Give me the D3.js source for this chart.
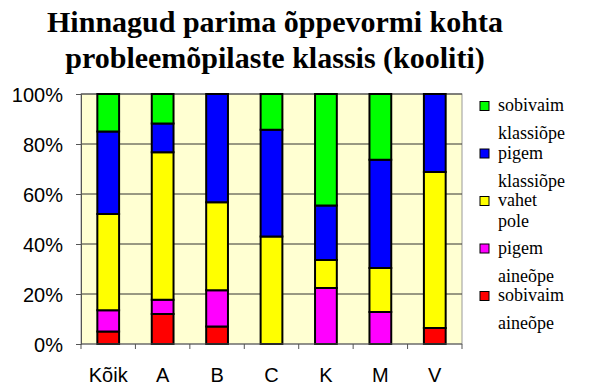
<!DOCTYPE html>
<html>
<head>
<meta charset="utf-8">
<script src="https://cdn.jsdelivr.net/npm/d3@7"></script>
<style>
body { margin: 0; background: #fff; }
.serif { font-family: "Liberation Serif", "Times New Roman", Times, "DejaVu Serif", serif; }
.sans { font-family: "Liberation Sans", Arial, Helvetica, sans-serif; }
</style>
</head>
<body>
<script>
// andmed
var categories = ["Kõik", "A", "B", "C", "K", "M", "V"];
var seriesNames = ["sobivaim aineõpe", "pigem aineõpe", "vahet pole", "pigem klassiõpe", "sobivaim klassiõpe"];
var seriesColors = ["#FF0000", "#FF00FF", "#FFFF00", "#0000FF", "#00FF00"];
var sobivaimAine = [5, 12, 7, 0, 0, 0, 6.4];
var pigemAine = [8.5, 5.7, 14.5, 0, 22.4, 12.8, 0];
var vahetPole = [38.5, 59, 35.2, 43, 11.2, 17.6, 62.4];
var pigemKlassi = [33, 11.5, 43.3, 42.7, 21.8, 43.3, 31.2];
var sobivaimKlassi = [15, 11.8, 0, 14.3, 44.6, 26.3, 0];
var yTicks = [0, 20, 40, 60, 80, 100];
var legendLines = [["sobivaim", "klassiõpe"], ["pigem", "klassiõpe"], ["vahet", "pole"], ["pigem", "aineõpe"], ["sobivaim", "aineõpe"]];

var width = 592, height = 387;
var margin = {top: 94, right: 130, bottom: 43, left: 81};
var plotW = width - margin.left - margin.right;
var plotH = height - margin.top - margin.bottom;

var svg = d3.select("body").append("svg")
    .attr("width", width)
    .attr("height", height);

// pealkiri
var title = svg.append("text")
    .attr("class", "serif")
    .attr("text-anchor", "middle")
    .attr("font-weight", "bold")
    .attr("font-size", "30px");
title.append("tspan").attr("x", 275).attr("y", 32).text("Hinnagud parima õppevormi kohta");
title.append("tspan").attr("x", 275).attr("y", 68).text("probleemõpilaste klassis (kooliti)");

var g = svg.append("g")
    .attr("transform", "translate(" + margin.left + "," + margin.top + ")");

var xScale = d3.scaleBand().domain(categories).range([0, plotW]).paddingInner(0.6).paddingOuter(0.3);
var xBound = d3.scaleLinear().domain([0, categories.length]).range([0, plotW]);
var yScale = d3.scaleLinear().domain([0, 100]).range([plotH, 0]);

// taust
g.append("rect")
    .attr("width", plotW)
    .attr("height", plotH)
    .attr("fill", "#FFFFD2")
    .attr("stroke", "#999")
    .attr("stroke-width", 1);

// ruudustik
g.selectAll(".grid")
    .data(yTicks.filter(function(d){ return d > 0; }))
    .enter()
    .append("line")
    .attr("x1", 0)
    .attr("x2", plotW)
    .attr("y1", function(d){ return yScale(d); })
    .attr("y2", function(d){ return yScale(d); })
    .attr("stroke", "#333")
    .attr("stroke-width", 1);

// kuhjatud tulbad
var table = categories.map(function(c, i) {
    return {cat: c, s0: sobivaimAine[i], s1: pigemAine[i], s2: vahetPole[i], s3: pigemKlassi[i], s4: sobivaimKlassi[i]};
});
var stack = d3.stack().keys(["s0", "s1", "s2", "s3", "s4"]);
var layers = stack(table);

g.selectAll(".layer")
    .data(layers)
    .enter()
    .append("g")
    .attr("fill", function(d, i){ return seriesColors[i]; })
    .selectAll("rect")
    .data(function(d){ return d.filter(function(p){ return p[1] - p[0] > 0; }); })
    .enter()
    .append("rect")
    .attr("x", function(d){ return xScale(d.data.cat); })
    .attr("width", xScale.bandwidth())
    .attr("y", function(d){ return yScale(d[1]); })
    .attr("height", function(d){ return yScale(d[0]) - yScale(d[1]); })
    .attr("stroke", "#000")
    .attr("stroke-width", 2);

// teljed
var yAxis = d3.axisLeft(yScale).tickValues(yTicks).tickSize(5).tickFormat(function(d){ return d + "%"; });
var yAxisGroup = g.append("g").call(yAxis).attr("font-family", null).attr("class", "sans");
yAxisGroup.select(".domain").attr("stroke", "#555");
yAxisGroup.selectAll(".tick line").attr("stroke", "#555");
yAxisGroup.selectAll(".tick text")
    .attr("x", -18)
    .attr("dy", "0.36em")
    .attr("font-size", "20px")
    .attr("fill", "#000");

var xAxisGroup = g.append("g").attr("class", "sans").attr("transform", "translate(0," + plotH + ")");
xAxisGroup.append("line")
    .attr("x1", 0).attr("x2", plotW)
    .attr("stroke", "#555");
xAxisGroup.selectAll(".xtick")
    .data(d3.range(categories.length + 1))
    .enter()
    .append("line")
    .attr("x1", function(d){ return xBound(d); })
    .attr("x2", function(d){ return xBound(d); })
    .attr("y1", 0)
    .attr("y2", 5)
    .attr("stroke", "#555");
xAxisGroup.selectAll(".xlabel")
    .data(categories)
    .enter()
    .append("text")
    .attr("x", function(d){ return xScale(d) + xScale.bandwidth() / 2; })
    .attr("y", 38)
    .attr("text-anchor", "middle")
    .attr("font-size", "20px")
    .text(function(d){ return d; });

// legend
var legend = svg.append("g").attr("class", "serif").attr("transform", "translate(480,0)");
var legendOrder = [4, 3, 2, 1, 0];
var legendItems = legend.selectAll(".item")
    .data(legendOrder)
    .enter()
    .append("g")
    .attr("transform", function(d, i){ return "translate(0," + (106 + i * 47.5) + ")"; });
legendItems.append("rect")
    .attr("x", 0)
    .attr("y", -4.5)
    .attr("width", 9)
    .attr("height", 9)
    .attr("fill", function(d){ return seriesColors[d]; })
    .attr("stroke", "#000")
    .attr("stroke-width", 1);
legendItems.each(function(d, i) {
    var t = d3.select(this).append("text")
        .attr("font-size", "18px");
    t.append("tspan").attr("x", 18).attr("y", 5).text(legendLines[i][0]);
    t.append("tspan").attr("x", 18).attr("y", i == 2 ? 26 : 33).text(legendLines[i][1]);
});
</script>
</body>
</html>
